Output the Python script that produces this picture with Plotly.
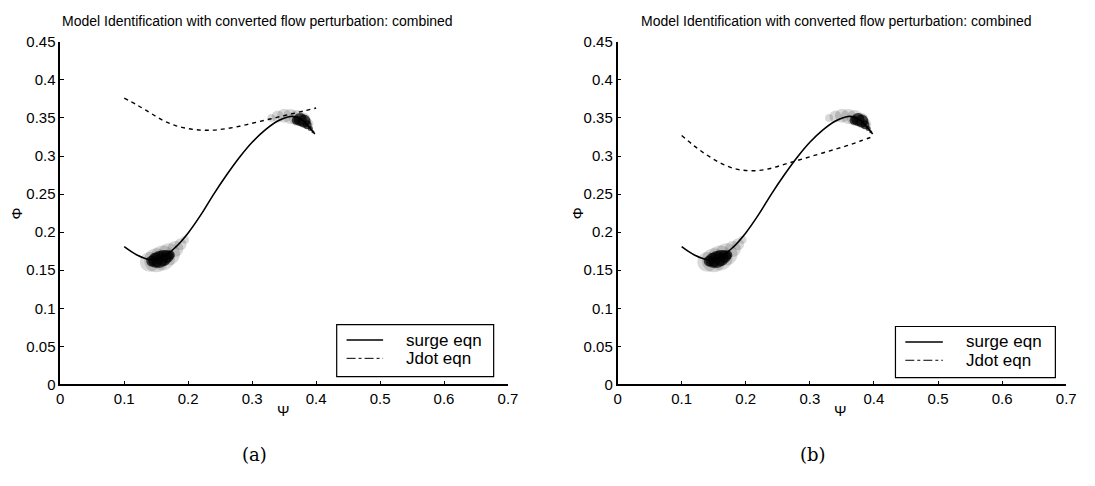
import plotly.graph_objects as go

W, H = 1095, 486

# ---------------- data ----------------
psi_surge = [0.100, 0.120, 0.140, 0.160, 0.180, 0.200, 0.220, 0.240, 0.260, 0.280,
             0.300, 0.320, 0.340, 0.360, 0.370, 0.380, 0.390, 0.398]
phi_surge = [0.181, 0.170, 0.164, 0.167, 0.180, 0.199, 0.223, 0.250, 0.275, 0.298,
             0.318, 0.334, 0.346, 0.352, 0.351, 0.346, 0.337, 0.329]

psi_jdot = [0.10, 0.12, 0.14, 0.16, 0.18, 0.20, 0.22, 0.24, 0.26, 0.28,
            0.30, 0.32, 0.34, 0.36, 0.38, 0.40]
phi_jdot_a = [0.376, 0.367, 0.357, 0.347, 0.340, 0.336, 0.334, 0.334, 0.336, 0.339,
              0.343, 0.347, 0.351, 0.355, 0.359, 0.363]
phi_jdot_b = [0.327, 0.313, 0.301, 0.291, 0.284, 0.281, 0.281, 0.284, 0.289, 0.294,
              0.299, 0.304, 0.309, 0.314, 0.320, 0.326]

# measured operating-point clouds (dense data clusters)
low_core_x = [0.143, 0.149, 0.155, 0.161, 0.167, 0.172]
low_core_y = [0.162, 0.163, 0.164, 0.166, 0.168, 0.170]
low_core_s = [11, 15, 17, 16, 13, 9]
low_halo_x = [0.140, 0.150, 0.160, 0.170, 0.180, 0.188, 0.195]
low_halo_y = [0.161, 0.163, 0.166, 0.171, 0.178, 0.184, 0.190]
low_halo_s = [20, 24, 25, 22, 16, 12, 8]

high_core_x = [0.369, 0.375, 0.381, 0.386, 0.391, 0.395]
high_core_y = [0.347, 0.348, 0.346, 0.341, 0.336, 0.332]
high_core_s = [9, 13, 13, 9, 5, 3]
high_halo_x = [0.330, 0.340, 0.350, 0.360, 0.370, 0.380, 0.388]
high_halo_y = [0.350, 0.352, 0.353, 0.352, 0.350, 0.347, 0.342]
high_halo_s = [8, 12, 14, 15, 16, 15, 10]

x_ticks = [0, 0.1, 0.2, 0.3, 0.4, 0.5, 0.6, 0.7]
x_ticktext = ["0", "0.1", "0.2", "0.3", "0.4", "0.5", "0.6", "0.7"]
y_ticks = [0, 0.05, 0.1, 0.15, 0.2, 0.25, 0.3, 0.35, 0.4, 0.45]
y_ticktext = ["0", "0.05", "0.1", "0.15", "0.2", "0.25", "0.3", "0.35", "0.4", "0.45"]

title_text = "Model Identification with converted flow perturbation: combined"
legend_labels = ["surge eqn", "Jdot eqn"]
panel_labels = ["(a)", "(b)"]

# ---------------- figure ----------------
fig = go.Figure()

panels = [("x", "y", phi_jdot_a), ("x2", "y2", phi_jdot_b)]
for xa, ya, jd in panels:
    fig.add_trace(go.Scatter(x=low_halo_x, y=low_halo_y, mode="markers", xaxis=xa, yaxis=ya,
                             marker=dict(size=low_halo_s, color="rgba(0,0,0,0.22)", line=dict(width=0)),
                             showlegend=False, hoverinfo="skip"))
    fig.add_trace(go.Scatter(x=high_halo_x, y=high_halo_y, mode="markers", xaxis=xa, yaxis=ya,
                             marker=dict(size=high_halo_s, color="rgba(0,0,0,0.22)", line=dict(width=0)),
                             showlegend=False, hoverinfo="skip"))
    fig.add_trace(go.Scatter(x=psi_surge, y=phi_surge, mode="lines", xaxis=xa, yaxis=ya,
                             line=dict(color="black", width=1.6, shape="spline", smoothing=1.0),
                             showlegend=False))
    fig.add_trace(go.Scatter(x=psi_jdot, y=jd, mode="lines", xaxis=xa, yaxis=ya,
                             line=dict(color="black", width=1.4, shape="spline", dash="4px,4px"),
                             showlegend=False))
    fig.add_trace(go.Scatter(x=low_core_x, y=low_core_y, mode="markers", xaxis=xa, yaxis=ya,
                             marker=dict(size=low_core_s, color="black", line=dict(width=0)),
                             showlegend=False, hoverinfo="skip"))
    fig.add_trace(go.Scatter(x=high_core_x, y=high_core_y, mode="markers", xaxis=xa, yaxis=ya,
                             marker=dict(size=high_core_s, color="black", line=dict(width=0)),
                             showlegend=False, hoverinfo="skip"))

def px(xp):
    return xp / W

def py(yp):
    return 1 - yp / H

sans = "Liberation Sans, Arial, sans-serif"
serif = "DejaVu Serif, Liberation Serif, serif"

axis_common = dict(showline=True, linecolor="black", linewidth=1.5, mirror=False,
                   ticks="inside", ticklen=4, tickcolor="black", tickwidth=1,
                   showgrid=False, zeroline=False,
                   tickfont=dict(family=sans, size=15, color="black"))

ydom = [py(389), py(34)]
fig.update_layout(
    width=W, height=H, margin=dict(l=0, r=0, t=0, b=0),
    paper_bgcolor="white", plot_bgcolor="white",
    showlegend=False,
    xaxis=dict(domain=[px(57), px(510.5)], range=[0, 0.7], anchor="y",
               tickvals=x_ticks, ticktext=x_ticktext, **axis_common),
    yaxis=dict(domain=ydom, range=[0, 0.45], anchor="x",
               tickvals=y_ticks, ticktext=y_ticktext, **axis_common),
    xaxis2=dict(domain=[px(621.5), px(1076)], range=[0, 0.7], anchor="y2",
                tickvals=x_ticks, ticktext=x_ticktext, **axis_common),
    yaxis2=dict(domain=ydom, range=[0, 0.45], anchor="x2",
                tickvals=y_ticks, ticktext=y_ticktext, **axis_common),
)

ann = []
shapes = []

panel_geo = [
    dict(title_x=257, psi_x=283, phi_x=13, cap_x=254,
         box=(337, 327, 496, 381), line=(347, 384), text_x=406),
    dict(title_x=843, psi_x=847, phi_x=581, cap_x=819,
         box=(903, 329, 1065, 382), line=(913, 951), text_x=973),
]

for i, g in enumerate(panel_geo):
    ann.append(dict(text=title_text, x=px(g["title_x"]), y=py(12), xref="paper", yref="paper",
                    showarrow=False, xanchor="center", yanchor="middle",
                    font=dict(family=sans, size=14, color="black")))
    ann.append(dict(text="Ψ", x=px(g["psi_x"]), y=py(416), xref="paper", yref="paper",
                    showarrow=False, xanchor="center", yanchor="middle",
                    font=dict(family=sans, size=15, color="black")))
    ann.append(dict(text="Φ", x=px(g["phi_x"]), y=py(212), xref="paper", yref="paper",
                    showarrow=False, xanchor="center", yanchor="middle", textangle=-90,
                    font=dict(family=sans, size=15, color="black")))
    ann.append(dict(text=panel_labels[i], x=px(g["cap_x"]), y=py(462), xref="paper", yref="paper",
                    showarrow=False, xanchor="center", yanchor="middle",
                    font=dict(family=serif, size=18, color="black")))
    x0, y0, x1, y1 = g["box"]
    shapes.append(dict(type="rect", xref="paper", yref="paper",
                       x0=px(x0), x1=px(x1), y0=py(y1), y1=py(y0),
                       line=dict(color="black", width=1.2), fillcolor="white", layer="above"))
    ly1 = y0 + 16
    ly2 = y0 + 35
    shapes.append(dict(type="line", xref="paper", yref="paper",
                       x0=px(g["line"][0]), x1=px(g["line"][1]), y0=py(ly1), y1=py(ly1),
                       line=dict(color="black", width=1.4), layer="above"))
    shapes.append(dict(type="line", xref="paper", yref="paper",
                       x0=px(g["line"][0]), x1=px(g["line"][1]), y0=py(ly2), y1=py(ly2),
                       line=dict(color="black", width=1.0, dash="dashdot"), layer="above"))
    for k, ly in enumerate((ly1, ly2)):
        ann.append(dict(text=legend_labels[k], x=px(g["text_x"]), y=py(ly), xref="paper", yref="paper",
                        showarrow=False, xanchor="left", yanchor="middle",
                        height=19, valign="middle", borderpad=0,
                        font=dict(family=sans, size=17, color="black")))

fig.update_layout(annotations=ann, shapes=shapes)

fig.write_html("out.html")
